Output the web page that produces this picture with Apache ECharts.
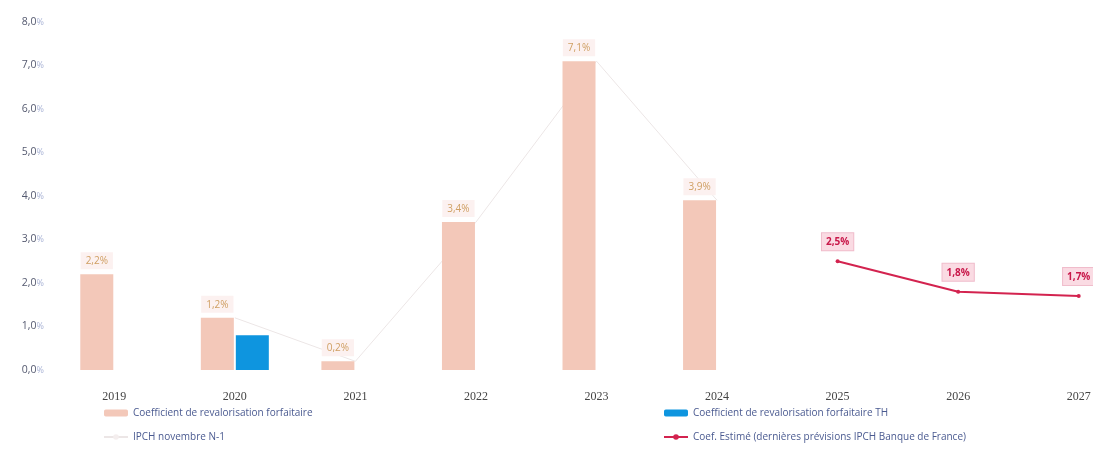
<!DOCTYPE html>
<html>
<head>
<meta charset="utf-8">
<script src="https://cdn.jsdelivr.net/npm/echarts@6/dist/echarts.min.js"></script>
<style>
  html, body { margin: 0; padding: 0; background: #fff; }
  #chart { width: 1093px; height: 473px; }
</style>
</head>
<body>
<div id="chart"></div>
<script>
const years = ['2019', '2020', '2021', '2022', '2023', '2024', '2025', '2026', '2027'];
const coefForfaitaire = [2.2, 1.2, 0.2, 3.4, 7.1, 3.9, null, null, null];
const coefTH = [null, 0.8, null, null, null, null, null, null, null];
const ipchNovembre = [null, 1.2, 0.2, 3.4, 7.1, 3.9, null, null, null];
const coefEstime = [null, null, null, null, null, null, 2.5, 1.8, 1.7];
const yTicks = [0, 1, 2, 3, 4, 5, 6, 7, 8];

const fmt = v => v.toFixed(1).replace('.', ',') + '%';

const chart = echarts.init(document.getElementById('chart'));
chart.setOption({
  animation: false,
  textStyle: { fontFamily: 'Open Sans' },
  grid: { left: 54, width: 1085, top: 22, bottom: 103, outerBoundsMode: 'none', containLabel: false },
  xAxis: {
    type: 'category',
    data: years,
    axisLine: { show: false },
    axisTick: { show: false },
    axisLabel: { color: '#444', fontFamily: 'Liberation Serif', fontSize: 12, margin: 21 }
  },
  yAxis: {
    type: 'value',
    min: yTicks[0],
    max: yTicks[yTicks.length - 1],
    interval: 1,
    splitLine: { show: false },
    axisLabel: {
      margin: 10,
      formatter: v => '{n|' + v.toFixed(1).replace('.', ',') + '}{p|%}',
      rich: {
        n: { color: '#555a70', fontSize: 10.5 },
        p: { color: '#aab4d6', fontSize: 9 }
      }
    }
  },
  legend: [
    {
      left: 98, top: 403, orient: 'vertical', itemGap: 14,
      itemWidth: 24, itemHeight: 7,
      textStyle: { color: '#4a5a90', fontSize: 10 },
      data: ['Coefficient de revalorisation forfaitaire', 'IPCH novembre N-1']
    },
    {
      left: 658, top: 403, orient: 'vertical', itemGap: 14,
      itemWidth: 24, itemHeight: 7,
      textStyle: { color: '#4a5a90', fontSize: 10 },
      data: ['Coefficient de revalorisation forfaitaire TH', 'Coef. Estimé (dernières prévisions IPCH Banque de France)']
    }
  ],
  series: [
    {
      name: 'Coefficient de revalorisation forfaitaire',
      type: 'bar',
      data: coefForfaitaire,
      barWidth: 33,
      barGap: '6%',
      itemStyle: { color: '#f3c8b9' },
      label: {
        show: true,
        position: 'top',
        distance: 5,
        formatter: p => fmt(p.value),
        color: '#cf9f62',
        fontSize: 10,
        backgroundColor: '#fcf1f0',
        padding: [4, 5, 3, 5]
      }
    },
    {
      name: 'Coefficient de revalorisation forfaitaire TH',
      type: 'bar',
      data: coefTH,
      barWidth: 33,
      itemStyle: { color: '#0e95df' }
    },
    {
      name: 'IPCH novembre N-1',
      type: 'line',
      data: ipchNovembre,
      symbol: 'none',
      z: 1,
      lineStyle: { color: '#ece6e6', width: 1 },
      itemStyle: { color: '#f4eeee' }
    },
    {
      name: 'Coef. Estimé (dernières prévisions IPCH Banque de France)',
      type: 'line',
      data: coefEstime,
      symbol: 'circle',
      symbolSize: 4,
      lineStyle: { color: '#d3234f', width: 2 },
      itemStyle: { color: '#d3234f' },
      label: {
        show: true,
        position: 'top',
        distance: 9,
        formatter: p => fmt(p.value),
        color: '#c8184a',
        fontWeight: 'bold',
        fontSize: 10,
        backgroundColor: '#fadbe3',
        borderColor: '#f0bccb',
        borderWidth: 1,
        padding: [4, 4, 3, 4]
      }
    }
  ]
});
</script>
</body>
</html>
